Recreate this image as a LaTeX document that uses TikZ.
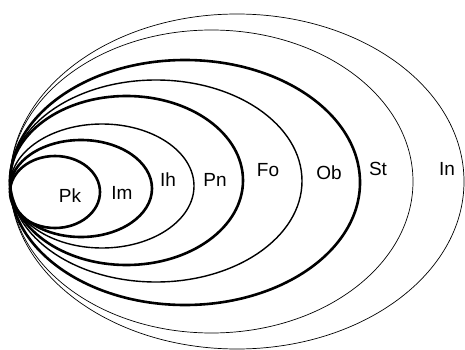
\documentclass[tikz,border=0pt]{standalone}
\usepackage{fontspec}
\setmainfont{Liberation Sans}
\begin{document}
\begin{tikzpicture}[x=1pt,y=-1pt,
  thickring/.style={draw=black,line width=2.6pt},
  midring/.style={draw=black,line width=1.4pt},
  thinring/.style={draw=black,line width=0.7pt},
  lab/.style={font=\fontsize{19}{19}\selectfont,inner sep=0pt}]
\useasboundingbox (0,0) rectangle (465,350);
\fill[white] (0,0) rectangle (465,350);
\draw[thinring]  (237,181.5) ellipse [x radius=227, y radius=167.5];
\draw[thinring]  (211.5,181.5) ellipse [x radius=201.5, y radius=151.5];
\draw[thickring] (185,182.5) ellipse [x radius=175, y radius=122.5];
\draw[midring]   (156,181) ellipse [x radius=146, y radius=101];
\draw[thickring] (126.5,180.5) ellipse [x radius=116.5, y radius=84.5];
\draw[midring]   (102,186) ellipse [x radius=92, y radius=62];
\draw[thickring] (81,188.5) ellipse [x radius=71, y radius=48.5];
\draw[thickring] (55,192) ellipse [x radius=45, y radius=36];
\node[lab] (pk) at (70,196) {Pk};
\node[lab] (im) at (122,193) {Im};
\node[lab] (ih) at (168,180) {Ih};
\node[lab] (pn) at (215,180) {Pn};
\node[lab] (fo) at (268,170) {Fo};
\node[lab] (ob) at (329,173) {Ob};
\node[lab] (st) at (378,169) {St};
\node[lab] (in) at (447,169) {In};
\end{tikzpicture}
\end{document}
